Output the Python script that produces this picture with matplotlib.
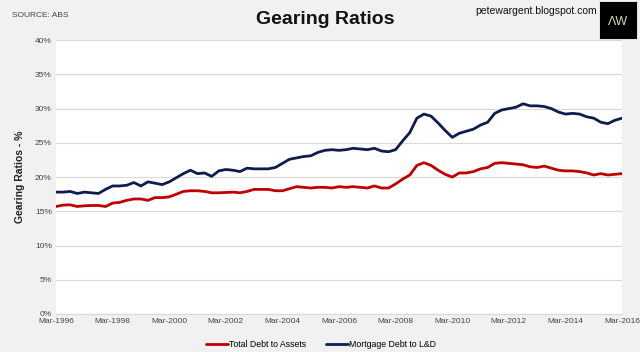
import numpy as np
import matplotlib.pyplot as plt

# quarterly, Mar-1996 .. Mar-2016
years = list(range(1996, 2017, 2))
tick_labels = [f"Mar-{y}" for y in years]

total_debt_to_assets = [
    15.7, 15.9, 15.95, 15.7, 15.8, 15.85, 15.85, 15.7, 16.2, 16.3,
    16.6, 16.8, 16.8, 16.6, 17.0, 17.0, 17.1, 17.5, 17.9, 18.0,
    18.0, 17.9, 17.7, 17.7, 17.75, 17.8, 17.7, 17.9, 18.2, 18.2,
    18.2, 18.0, 18.0, 18.3, 18.6, 18.5, 18.4, 18.5, 18.5, 18.4,
    18.6, 18.5, 18.6, 18.5, 18.4, 18.7, 18.4, 18.4, 19.0, 19.7,
    20.3, 21.7, 22.1, 21.7, 21.0, 20.4, 20.0, 20.6, 20.6, 20.8,
    21.2, 21.4, 22.0, 22.1, 22.0, 21.9, 21.8, 21.5, 21.4, 21.6,
    21.3, 21.0, 20.9, 20.9, 20.8, 20.6, 20.3, 20.5, 20.3, 20.4,
    20.5,
]
mortgage_debt_to_ld = [
    17.8, 17.8, 17.9, 17.6, 17.8, 17.7, 17.6, 18.2, 18.7, 18.7,
    18.8, 19.2, 18.7, 19.3, 19.1, 18.9, 19.3, 19.9, 20.5, 21.0,
    20.5, 20.6, 20.1, 20.9, 21.1, 21.0, 20.8, 21.3, 21.2, 21.2,
    21.2, 21.4, 22.0, 22.6, 22.8, 23.0, 23.1, 23.6, 23.9, 24.0,
    23.9, 24.0, 24.2, 24.1, 24.0, 24.2, 23.8, 23.7, 24.0, 25.3,
    26.5, 28.6, 29.2, 28.9, 27.9, 26.8, 25.8, 26.4, 26.7, 27.0,
    27.6, 28.0, 29.3, 29.8, 30.0, 30.2, 30.7, 30.4, 30.4, 30.3,
    30.0, 29.5, 29.2, 29.3, 29.2, 28.8, 28.6, 28.0, 27.8, 28.3,
    28.6,
]

plt.rcParams['font.family'] = ['Liberation Sans', 'DejaVu Sans']

fig = plt.figure(figsize=(6.4, 3.52), dpi=100, facecolor='#f1f1f1')
ax = fig.add_axes([0.0875, 0.108, 0.8845, 0.778])
ax.set_facecolor('white')

x = np.arange(len(total_debt_to_assets))
ax.plot(x, total_debt_to_assets, color='#c00000', lw=2.0, label='Total Debt to Assets', solid_capstyle='round')
ax.plot(x, mortgage_debt_to_ld, color='#0e1d4e', lw=2.0, label='Mortgage Debt to L&D', solid_capstyle='round')

ax.set_xlim(0, len(x) - 1)
ax.set_ylim(0, 40)
ax.set_xticks(np.arange(0, len(x), 8))
ax.set_xticklabels(tick_labels)
ax.set_yticks(np.arange(0, 41, 5))
ax.set_yticklabels([f"{v}%" for v in range(0, 41, 5)])
ax.tick_params(labelsize=6, colors='#444444', length=0, pad=3)
ax.grid(axis='y', color='#d9d9d9', lw=0.8)
ax.set_axisbelow(True)
for s in ['top', 'right', 'left']:
    ax.spines[s].set_visible(False)
ax.spines['bottom'].set_color('#d9d9d9')

ax.set_ylabel('Gearing Ratios - %', fontsize=7.5, fontweight='bold', color='#222222', labelpad=7)

leg = ax.legend(loc='upper center', bbox_to_anchor=(0.468, -0.065), ncol=2, frameon=False,
                fontsize=6.3, handlelength=2.6, columnspacing=2.2, handletextpad=0.1)

fig.text(0.508, 0.945, 'Gearing Ratios', ha='center', va='center', fontsize=14, fontweight='bold', color='#111111')
fig.text(0.018, 0.955, 'SOURCE: ABS', ha='left', va='center', fontsize=6, color='#444444')
fig.text(0.933, 0.968, 'petewargent.blogspot.com', ha='right', va='center', fontsize=7.5, color='#111111')

logo = fig.add_axes([0.9375, 0.892, 0.056, 0.102])
logo.set_facecolor('black')
logo.set_xticks([])
logo.set_yticks([])
logo.text(0.5, 0.45, 'ΛW', ha='center', va='center', color='#d8d8b0', fontsize=9, transform=logo.transAxes)

fig.savefig('out.png', dpi=100, facecolor=fig.get_facecolor())
